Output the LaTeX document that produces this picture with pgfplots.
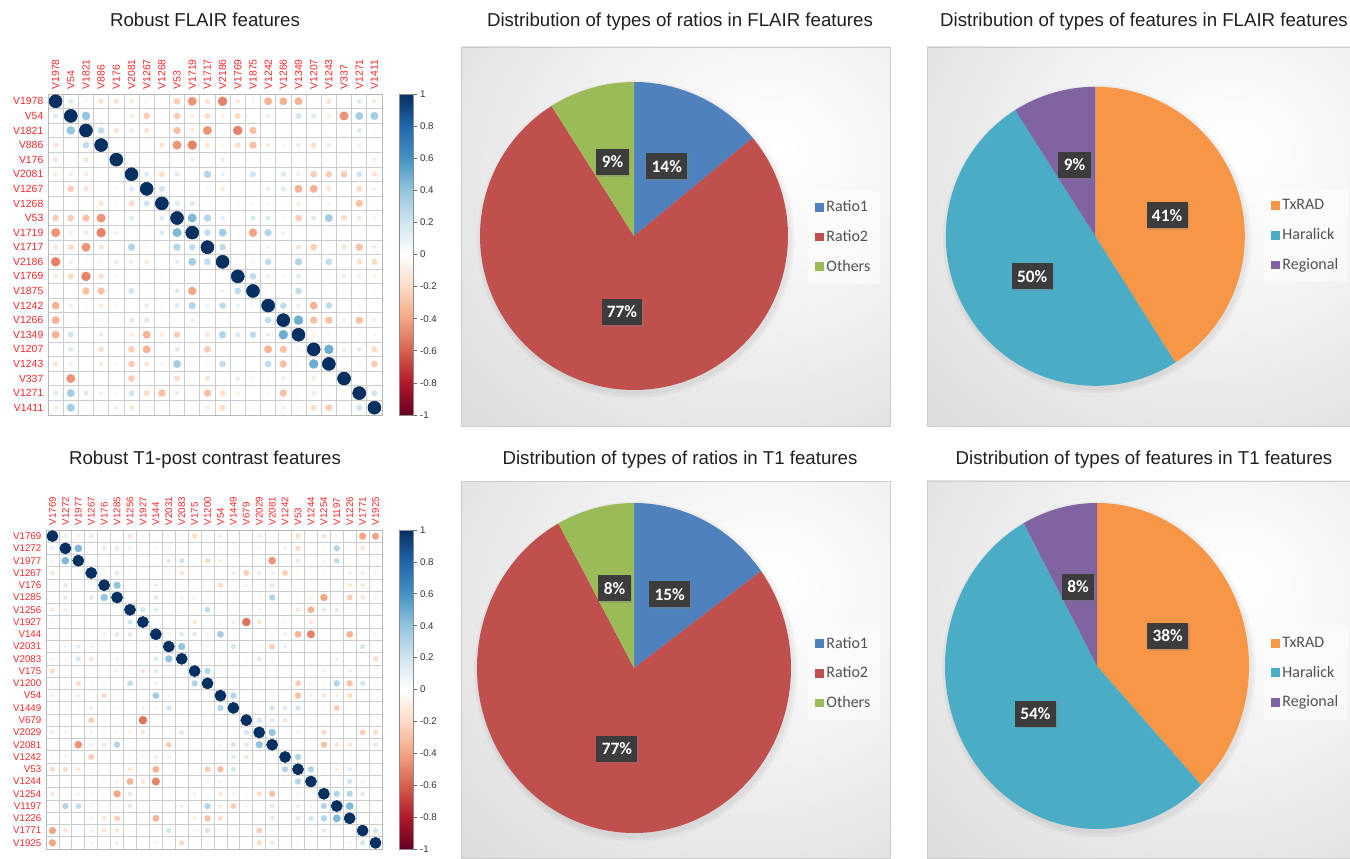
\documentclass[border=0pt]{standalone}
\usepackage{fontspec}
\setmainfont{Liberation Sans}
\newfontfamily\calibri{Carlito}
\usepackage{pgfplots}
\usepackage{pgfplotstable}
\pgfplotsset{compat=1.18}
\usetikzlibrary{shadows}

\definecolor{ratioblue}{HTML}{4F81BD}
\definecolor{ratiored}{HTML}{C0504D}
\definecolor{ratiogreen}{HTML}{9BBB59}
\definecolor{txorange}{HTML}{F79646}
\definecolor{haraqua}{HTML}{4BACC6}
\definecolor{regpurple}{HTML}{8064A2}
\definecolor{lblbox}{HTML}{3C3C3C}
\definecolor{tlred}{HTML}{FF2626}
\colorlet{shA}{white!95!black}
\colorlet{shB}{white!84!black}
\colorlet{shC}{white!70!black}
\pgfdeclareradialshading{panelshade}{\pgfpoint{12bp}{12bp}}{%
  color(0bp)=(white); color(20bp)=(shA); color(50bp)=(shB); color(90bp)=(shC)}

% ---------------- correlation data (upper triangle, i<=j) ----------------
\pgfplotstableread{
i j r
0 0 1
1 1 1
2 2 1
3 3 1
4 4 1
5 5 1
6 6 1
7 7 1
8 8 1
9 9 1
10 10 1
11 11 1
12 12 1
13 13 1
14 14 1
15 15 1
16 16 1
17 17 1
18 18 1
19 19 1
20 20 1
21 21 1
0 1 0.15
0 2 0.08
0 3 -0.15
0 4 -0.15
0 5 -0.12
0 6 -0.08
0 8 -0.25
0 9 -0.45
0 10 -0.15
0 11 -0.5
0 12 -0.12
0 13 -0.08
0 14 -0.35
0 15 -0.35
0 16 -0.35
0 17 0.02
0 18 -0.15
0 19 0.03
0 20 0.15
0 21 -0.12
1 2 0.4
1 3 0.03
1 4 0.02
1 5 -0.1
1 6 -0.25
1 8 -0.25
1 9 -0.1
1 10 -0.2
1 11 -0.1
1 12 -0.2
1 14 -0.1
1 15 0.03
1 16 0.2
1 17 0.15
1 18 -0.1
1 19 -0.45
1 20 0.35
1 21 0.35
2 3 0.25
2 4 -0.15
2 5 -0.12
2 6 -0.15
2 7 0.03
2 8 -0.3
2 9 -0.12
2 10 -0.45
2 11 -0.05
2 12 -0.5
2 13 -0.3
2 14 -0.05
2 15 0.03
2 16 0.02
2 17 0.02
2 18 0.02
2 19 0.02
2 20 0.15
2 21 0.05
3 4 0.02
3 5 0.03
3 6 0.03
3 7 -0.15
3 8 -0.45
3 9 -0.5
3 10 -0.15
3 11 -0.08
3 12 -0.18
3 13 -0.3
3 14 -0.12
3 15 0.08
3 16 0.12
3 17 -0.18
3 18 -0.12
3 20 -0.1
3 21 0.03
4 5 0.05
4 6 0.05
4 7 0.05
4 8 0.03
4 9 0.1
4 10 0.03
4 11 0.12
4 12 0.05
4 13 -0.05
4 14 0.05
4 15 0.02
4 16 0.03
4 17 0.03
4 18 0.05
4 20 0.05
4 21 0.1
5 6 0.15
5 7 -0.2
5 8 0.15
5 10 0.3
5 11 0.1
5 13 0.2
5 15 0.15
5 16 -0.1
5 17 -0.25
5 18 -0.25
5 19 -0.25
5 20 0.2
5 21 -0.15
6 7 0.2
6 8 0.03
6 9 0.05
6 10 0.08
6 11 -0.12
6 12 0.02
6 13 0.03
6 14 0.12
6 15 0.15
6 16 -0.35
6 17 -0.35
6 18 -0.15
6 19 0.02
6 20 -0.2
6 21 0.08
7 8 0.15
7 9 0.15
7 11 0.02
7 12 0.05
7 13 -0.05
7 14 -0.05
7 15 0.02
7 16 -0.12
7 18 0.08
7 19 -0.03
7 20 -0.3
8 9 0.45
8 10 0.3
8 11 0.12
8 12 0.02
8 13 0.15
8 14 0.15
8 15 -0.05
8 16 -0.25
8 17 0.15
8 18 0.35
8 19 -0.2
8 20 -0.12
8 21 -0.08
9 10 0.25
9 11 0.35
9 12 0.05
9 13 -0.4
9 14 0.3
9 15 0.1
9 16 0.02
9 17 0.05
9 18 0.05
9 20 -0.05
10 11 0.25
10 12 0.02
10 13 0.05
10 14 0.1
10 15 0.02
10 16 -0.15
10 17 -0.25
10 18 -0.05
10 19 -0.15
10 20 -0.3
10 21 -0.12
11 12 0.03
11 13 0.08
11 14 0.25
11 15 0.05
11 16 0.3
11 17 0.02
11 18 0.25
11 20 -0.18
11 21 -0.2
12 13 0.25
12 14 0.1
12 15 0.05
12 16 0.15
12 17 0.03
12 18 0.05
12 19 0.12
12 20 -0.1
12 21 -0.08
13 14 0.05
13 15 0.02
13 16 0.25
13 17 0.03
13 18 0.02
13 19 -0.08
13 20 0.02
13 21 0.05
14 15 0.25
14 16 0.1
14 17 -0.35
14 18 0.25
14 19 0.03
14 20 -0.05
14 21 0.02
15 16 0.5
15 17 -0.3
15 18 -0.3
15 19 -0.1
15 20 -0.3
15 21 0.1
16 17 -0.08
16 18 0.05
16 19 0.02
16 20 -0.05
16 21 0.08
17 18 0.5
17 19 -0.12
17 20 0.12
17 21 -0.2
18 19 0.02
18 20 0.05
18 21 -0.25
19 20 0.05
19 21 0.02
20 21 0.2
}\corrA

\pgfplotstableread{
i j r
0 0 1
1 1 1
2 2 1
3 3 1
4 4 1
5 5 1
6 6 1
7 7 1
8 8 1
9 9 1
10 10 1
11 11 1
12 12 1
13 13 1
14 14 1
15 15 1
16 16 1
17 17 1
18 18 1
19 19 1
20 20 1
21 21 1
22 22 1
23 23 1
24 24 1
25 25 1
0 1 0.12
0 2 0.1
0 3 -0.15
0 4 0.05
0 5 0.02
0 6 -0.15
0 7 -0.08
0 8 0.02
0 9 -0.08
0 10 0.1
0 11 -0.2
0 12 -0.08
0 13 0.12
0 14 -0.05
0 15 0.08
0 16 0.12
0 17 -0.05
0 18 0.05
0 19 -0.2
0 20 -0.05
0 21 -0.15
0 22 0.08
0 24 -0.4
0 25 -0.4
1 2 0.45
1 3 0.05
1 4 0.15
1 5 0.15
1 6 -0.12
1 7 -0.05
1 8 0.05
1 9 0.1
1 10 0.08
1 13 0.05
1 14 0.05
1 16 0.08
1 18 0.1
1 19 -0.2
1 20 -0.03
1 21 0.05
1 22 0.3
1 24 -0.15
1 25 -0.08
2 3 -0.05
2 5 -0.03
2 6 -0.05
2 7 -0.03
2 8 0.02
2 9 0.15
2 10 0.2
2 11 0.02
2 12 -0.2
2 13 -0.12
2 14 -0.05
2 15 -0.05
2 17 -0.45
2 19 -0.15
2 21 0.1
2 22 0.25
2 23 -0.03
2 24 -0.05
2 25 -0.05
3 4 0.05
3 5 0.15
3 6 -0.05
3 7 0.02
3 9 -0.1
3 10 -0.15
3 12 -0.05
3 14 -0.12
3 15 -0.25
3 16 -0.12
3 17 0.12
3 18 -0.25
3 19 -0.08
3 20 -0.08
3 21 0.05
3 22 -0.08
3 23 -0.12
3 24 -0.12
3 25 0.1
4 5 0.4
4 6 -0.05
4 7 -0.05
4 8 0.12
4 9 0.02
4 10 0.05
4 12 0.05
4 13 -0.2
4 14 -0.05
4 15 0.08
4 16 -0.05
4 17 0.15
4 18 0.03
4 20 -0.05
4 21 -0.03
4 23 -0.15
4 24 -0.15
5 7 0.05
5 8 0.15
5 9 0.05
5 10 0.1
5 11 -0.1
5 12 -0.05
5 13 0.08
5 14 0.08
5 16 0.08
5 17 0.3
5 18 0.03
5 19 -0.05
5 20 -0.1
5 21 -0.4
5 22 -0.08
5 23 -0.25
5 24 -0.15
5 25 -0.12
6 7 0.2
6 8 0.15
6 10 0.03
6 11 0.05
6 12 0.25
6 13 0.03
6 16 -0.1
6 17 -0.05
6 18 -0.05
6 19 -0.15
6 20 -0.35
6 21 0.15
6 22 0.15
6 23 0.05
6 24 0.05
6 25 0.03
7 8 0.03
7 9 0.03
7 11 -0.15
7 12 0.03
7 13 -0.05
7 14 0.12
7 15 -0.55
7 16 -0.15
7 18 0.1
7 20 -0.15
7 22 0.03
7 23 0.03
8 9 0.1
8 10 0.15
8 11 0.15
8 12 0.1
8 13 0.35
8 14 0.05
8 15 0.05
8 17 0.05
8 18 -0.12
8 19 -0.35
8 20 -0.5
8 21 0.03
8 22 -0.05
8 23 -0.35
8 25 -0.1
9 10 0.4
9 11 0.02
9 12 -0.08
9 13 -0.08
9 14 0.2
9 15 -0.03
9 16 0.05
9 17 -0.25
9 18 0.12
9 19 -0.03
9 22 0.02
9 23 0.05
9 24 0.2
10 11 0.03
10 12 -0.03
10 13 0.08
10 14 0.03
10 15 0.05
10 16 0.15
10 17 -0.08
10 18 0.03
10 21 0.03
10 22 0.12
10 23 0.03
10 24 0.03
10 25 -0.2
11 12 0.3
11 13 0.05
11 15 0.03
11 16 0.02
11 19 0.02
11 21 0.1
11 23 -0.12
11 24 0.08
11 25 -0.05
12 13 0.02
12 14 -0.05
12 15 0.02
12 16 -0.08
12 17 0.05
12 19 -0.25
12 20 -0.1
12 21 0.05
12 22 0.3
12 23 -0.3
12 24 0.2
12 25 -0.08
13 14 0.3
13 16 0.05
13 17 0.1
13 18 0.02
13 19 -0.3
13 20 -0.1
13 21 -0.15
13 22 -0.12
13 23 -0.2
13 24 0.05
14 15 0.02
14 16 0.05
14 17 0.2
14 18 0.15
14 19 0.2
14 21 -0.08
14 22 -0.25
15 16 0.2
15 17 0.15
15 18 -0.15
15 19 0.05
15 20 0.05
15 21 -0.05
15 22 0.08
15 23 0.05
16 17 0.4
16 19 0.1
16 20 0.03
16 21 -0.2
16 23 0.03
16 24 -0.25
16 25 -0.2
17 19 0.05
17 20 0.05
17 21 -0.3
17 22 -0.15
17 23 -0.15
17 24 -0.1
17 25 -0.15
18 19 0.3
18 20 0.05
18 22 -0.03
18 23 0.05
19 20 0.3
19 21 -0.08
19 22 -0.12
19 23 0.15
19 24 -0.02
19 25 0.05
20 21 0.03
20 22 0.08
20 23 0.2
20 24 0.1
20 25 0.05
21 22 0.3
21 23 0.3
21 24 0.15
22 23 0.45
23 25 0.1
24 25 0.2
}\corrB

% ---------------- pie data ----------------
\pgfplotstableread{
label value
Ratio1 14
Ratio2 77
Others 9
}\pieFR
\pgfplotstableread{
label value
TxRAD 41
Haralick 50
Regional 9
}\pieFF
\pgfplotstableread{
label value
Ratio1 15
Ratio2 77
Others 8
}\pieTR
\pgfplotstableread{
label value
TxRAD 38
Haralick 54
Regional 8
}\pieTF

\newcommand\pieprep[1]{%
  \pgfplotstablegetelem{0}{value}\of#1\edef\pa{\pgfplotsretval}%
  \pgfplotstablegetelem{1}{value}\of#1\edef\pb{\pgfplotsretval}%
  \pgfplotstablegetelem{2}{value}\of#1\edef\pc{\pgfplotsretval}%
  \pgfmathsetmacro\angA{90-3.6*\pa}%
  \pgfmathsetmacro\angB{\angA-3.6*\pb}%
  \pgfmathsetmacro\midA{90-1.8*\pa}%
  \pgfmathsetmacro\midB{\angA-1.8*\pb}%
  \pgfmathsetmacro\midC{\angB-1.8*\pc}%
}
\newcommand\piedraw[3]{%
  \fill[black, opacity=0.035] (axis cs:0.012,-0.02) circle[radius=1.03];
  \fill[black, opacity=0.035] (axis cs:0.012,-0.02) circle[radius=1.012];
  \fill[#1] (axis cs:0,0) -- (axis cs:0,1) arc[start angle=90, end angle=\angA, radius=1] -- cycle;
  \fill[#2] (axis cs:0,0) -- (axis cs:{cos(\angA)},{sin(\angA)}) arc[start angle=\angA, end angle=\angB, radius=1] -- cycle;
  \fill[#3] (axis cs:0,0) -- (axis cs:{cos(\angB)},{sin(\angB)}) arc[start angle=\angB, end angle=-270, radius=1] -- cycle;
  \node[pielbl] at (axis cs:{0.5*cos(\midA)},{0.5*sin(\midA)}) {\pa\%};
  \node[pielbl] at (axis cs:{0.5*cos(\midB)},{0.5*sin(\midB)}) {\pb\%};
  \node[pielbl] at (axis cs:{0.5*cos(\midC)},{0.5*sin(\midC)}) {\pc\%};
}

\tikzset{pielbl/.style={fill=lblbox, text=white,
  font=\calibri\bfseries\fontsize{13}{15}\selectfont,
  inner xsep=4pt, inner ysep=0pt, minimum height=19.5pt,
  drop shadow={opacity=0.35, shadow xshift=1.2pt, shadow yshift=-1.2pt}}}

\pgfplotsset{
  corrbase/.style={
    scale only axis, anchor=south west,
    major tick length=0pt, minor tick length=0pt, minor tick num=1,
    xminorgrids, yminorgrids,
    minor grid style={white!80!black, line width=0.6pt},
    axis line style={white!72!black, line width=0.6pt},
    xticklabel pos=right,
    x tick label style={rotate=90, anchor=west, text=tlred},
    y tick label style={text=tlred},
    colormap={rdbu}{rgb255=(103,0,31) rgb255=(178,24,43) rgb255=(214,96,77)
      rgb255=(244,165,130) rgb255=(253,219,199) rgb255=(255,255,255)
      rgb255=(209,229,240) rgb255=(146,197,222) rgb255=(67,147,195)
      rgb255=(33,102,172) rgb255=(5,48,97)},
    point meta min=-1, point meta max=1,
    colorbar,
    colorbar style={
      at={(parent axis.north east)}, anchor=north west, xshift=4.5pt,
      width=10.5pt,
      minor tick num=0, xminorgrids=false, yminorgrids=false,
      ytick={-1,-0.8,-0.6,-0.4,-0.2,0,0.2,0.4,0.6,0.8,1},
      yticklabel style={font=\fontsize{7.3}{8}\selectfont, text=black!80, xshift=-1pt,
        /pgf/number format/assume math mode=true, /pgf/number format/fixed},
      major tick length=2.5pt, tick align=outside,
      ytick pos=right, yticklabel pos=right,
      tick style={black!60, line width=0.5pt},
      axis line style={black!45, line width=0.5pt},
    },
  },
  corrmark/.style={scatter, only marks, mark=*,
    point meta=\thisrow{r},
    scatter/use mapped color={draw=mapped color, fill=mapped color},
    visualization depends on={#1*sqrt(abs(\thisrow{r})) \as \msize},
    scatter/@pre marker code/.append style={/tikz/mark size=\msize},
    mark options={line width=0.1pt}},
  piebase/.style={
    scale only axis, anchor=south west,
    xtick=\empty, ytick=\empty,
    axis line style={white!80!black, line width=0.6pt},
    axis background/.style={shade, shading=panelshade},
    legend cell align=left,
    legend style={anchor=north west, draw=none, fill=white, fill opacity=0.5,
      text opacity=1, font=\calibri\fontsize{12}{14}\selectfont, text=black!68,
      row sep=8.5pt, inner xsep=5pt, inner ysep=6pt},
    legend image code/.code={\fill[##1, draw=none, fill opacity=1] (0pt,-3.3pt) rectangle (6.6pt,3.3pt);},
  },
}

\begin{document}
\begin{tikzpicture}
\useasboundingbox (0,0) rectangle (1012.5pt,643.5pt);

% titles
\begin{scope}[every node/.style={anchor=base, font=\fontsize{14}{16}\selectfont, text=black!88}]
\node at (153.75pt,623.25pt) {Robust FLAIR features};
\node at (510pt,623.25pt) {Distribution of types of ratios in FLAIR features};
\node at (858pt,623.25pt) {Distribution of types of features in FLAIR features};
\node at (153.75pt,294.75pt) {Robust T1-post contrast features};
\node at (510pt,294.75pt) {Distribution of types of ratios in T1 features};
\node at (858pt,294.75pt) {Distribution of types of features in T1 features};
\end{scope}

% ---------- correlation matrix: FLAIR ----------
\begin{axis}[corrbase,
  at={(36pt,332.25pt)}, width=250.5pt, height=240.75pt,
  xmin=-0.5, xmax=21.5, ymin=-0.5, ymax=21.5,
  xtick={0,...,21}, ytick={0,...,21},
  tick label style={font=\fontsize{7.8}{9}\selectfont},
  xticklabels={V1978,V54,V1821,V886,V176,V2081,V1267,V1268,V53,V1719,V1717,V2186,V1769,V1875,V1242,V1266,V1349,V1207,V1243,V337,V1271,V1411},
  yticklabels={V1411,V1271,V337,V1243,V1207,V1349,V1266,V1242,V1875,V1769,V2186,V1717,V1719,V53,V1268,V1267,V2081,V176,V886,V1821,V54,V1978},
]
\addplot[corrmark=4.9] table[x=i, y expr={21-\thisrow{j}}] {\corrA};
\addplot[corrmark=4.9] table[x=j, y expr={21-\thisrow{i}}] {\corrA};
\end{axis}

% ---------- correlation matrix: T1 ----------
\begin{axis}[corrbase,
  at={(34.5pt,6.75pt)}, width=252pt, height=239.25pt,
  xmin=-0.5, xmax=25.5, ymin=-0.5, ymax=25.5,
  xtick={0,...,25}, ytick={0,...,25},
  tick label style={font=\fontsize{7.3}{8.5}\selectfont},
  xticklabels={V1769,V1272,V1977,V1267,V176,V1285,V1256,V1927,V144,V2031,V2083,V175,V1200,V54,V1449,V679,V2029,V2081,V1242,V53,V1244,V1254,V1197,V1226,V1771,V1925},
  yticklabels={V1925,V1771,V1226,V1197,V1254,V1244,V53,V1242,V2081,V2029,V679,V1449,V54,V1200,V175,V2083,V2031,V144,V1927,V1256,V1285,V176,V1267,V1977,V1272,V1769},
]
\addplot[corrmark=4.2] table[x=i, y expr={25-\thisrow{j}}] {\corrB};
\addplot[corrmark=4.2] table[x=j, y expr={25-\thisrow{i}}] {\corrB};
\end{axis}

% ---------- pie: ratios FLAIR ----------
\pieprep{\pieFR}
\begin{axis}[piebase,
  at={(345.75pt,324pt)}, width=321.75pt, height=284.25pt,
  xmin=-1.1234, xmax=1.6623, ymin=-1.2338, ymax=1.2273,
  legend style={at={(0.8089,0.623)}},
  legend entries={Ratio1,Ratio2,Others}]
\addlegendimage{fill=ratioblue}
\addlegendimage{fill=ratiored}
\addlegendimage{fill=ratiogreen}
\piedraw{ratioblue}{ratiored}{ratiogreen}
\end{axis}

% ---------- pie: features FLAIR ----------
\pieprep{\pieFF}
\begin{axis}[piebase,
  at={(695.25pt,324pt)}, width=317.25pt, height=284.25pt,
  xmin=-1.1258, xmax=1.7037, ymin=-1.2689, ymax=1.2662,
  legend style={at={(0.7967,0.626)}},
  legend entries={TxRAD,Haralick,Regional}]
\addlegendimage{fill=txorange}
\addlegendimage{fill=haraqua}
\addlegendimage{fill=regpurple}
\piedraw{txorange}{haraqua}{regpurple}
\end{axis}

% ---------- pie: ratios T1 ----------
\pieprep{\pieTR}
\begin{axis}[piebase,
  at={(345.75pt,0pt)}, width=321.75pt, height=282.75pt,
  xmin=-1.1019, xmax=1.6306, ymin=-1.1515, ymax=1.1333,
  legend style={at={(0.8089,0.615)}},
  legend entries={Ratio1,Ratio2,Others}]
\addlegendimage{fill=ratioblue}
\addlegendimage{fill=ratiored}
\addlegendimage{fill=ratiogreen}
\piedraw{ratioblue}{ratiored}{ratiogreen}
\end{axis}

% ---------- pie: features T1 ----------
\pieprep{\pieTF}
\begin{axis}[piebase,
  at={(695.25pt,0pt)}, width=317.25pt, height=282.75pt,
  xmin=-1.1184, xmax=1.6645, ymin=-1.178, ymax=1.135,
  legend style={at={(0.7967,0.615)}},
  legend entries={TxRAD,Haralick,Regional}]
\addlegendimage{fill=txorange}
\addlegendimage{fill=haraqua}
\addlegendimage{fill=regpurple}
\piedraw{txorange}{haraqua}{regpurple}
\end{axis}

\end{tikzpicture}
\end{document}
